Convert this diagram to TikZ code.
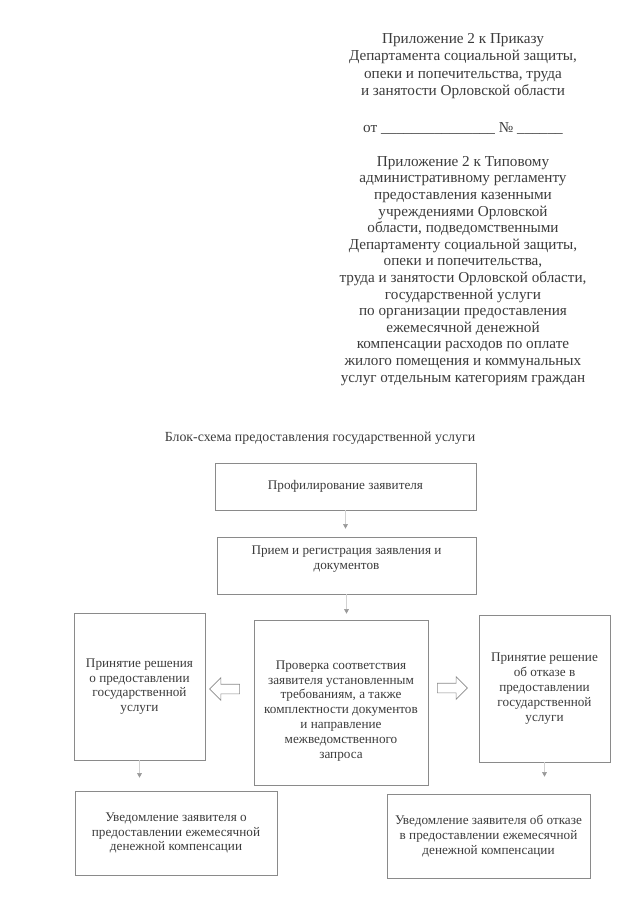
\documentclass[tikz,border=0pt]{standalone}
\usepackage{fontspec}
\setmainfont{Liberation Serif}
\usetikzlibrary{shapes.arrows,arrows.meta}
\definecolor{txt}{HTML}{3C3C3C}
\definecolor{edge}{HTML}{8A8A8A}
\begin{document}
\begin{tikzpicture}[x=1pt,y=-1pt,
 hdr/.style={align=center,font=\fontsize{15.2}{17.5}\selectfont,text=txt,inner sep=0pt},
 box/.style={draw=edge,line width=0.6pt,align=center,font=\fontsize{13.2}{14.8}\selectfont,text=txt,inner sep=0pt},
 flow/.style={draw=gray!35,line width=0.4pt,-{Triangle[width=4.5pt,length=4.5pt,fill=gray!80,color=gray!80]}},
 hollow/.style={single arrow,draw=edge,line width=0.6pt,fill=white,minimum height=30pt,inner sep=4.5pt,single arrow head extend=6.5pt}
]
\useasboundingbox[fill=white] (0,0) rectangle (639,905);

\node[hdr,anchor=north] (h1) at (463,33) {Приложение 2 к Приказу\\Департамента социальной защиты,\\опеки и попечительства, труда\\и занятости Орловской области};
\node[hdr,anchor=base] (h2) at (463,132) {от \_\_\_\_\_\_\_\_\_\_\_\_\_\_\_ № \_\_\_\_\_\_};
\node[hdr,anchor=north,font=\fontsize{15.2}{16.6}\selectfont] (h3) at (463,156) {Приложение 2 к Типовому\\административному регламенту\\предоставления казенными\\учреждениями Орловской\\области, подведомственными\\Департаменту социальной защиты,\\опеки и попечительства,\\труда и занятости Орловской области,\\государственной услуги\\по организации предоставления\\ежемесячной денежной\\компенсации расходов по оплате\\жилого помещения и коммунальных\\услуг отдельным категориям граждан};

\node[hdr,anchor=base,font=\fontsize{13.9}{16}\selectfont] (title) at (320,441) {Блок-схема предоставления государственной услуги};

\node[box,minimum width=261pt,minimum height=47pt] (b1) at (345.5,486.5) {Профилирование заявителя};
\node[box,minimum width=259pt,minimum height=57pt] (b2) at (346.5,565.5) {Прием и регистрация заявления и\\документов\rule[-15pt]{0pt}{0pt}};
\node[box,minimum width=131pt,minimum height=147pt] (L) at (139.5,686.5) {Принятие решения\\о предоставлении\\государственной\\услуги};
\node[box,minimum width=174pt,minimum height=165pt] (C) at (341,702.5) {\rule{0pt}{25pt}Проверка соответствия\\заявителя установленным\\требованиям, а также\\комплектности документов\\и направление\\межведомственного\\запроса};
\node[box,minimum width=131pt,minimum height=147pt] (R) at (544.5,688.5) {Принятие решение\\об отказе в\\предоставлении\\государственной\\услуги};
\node[box,minimum width=202pt,minimum height=84pt] (BL) at (176,833) {Уведомление заявителя о\\предоставлении ежемесячной\\денежной компенсации};
\node[box,minimum width=203pt,minimum height=84pt] (BR) at (488.5,836) {Уведомление заявителя об отказе\\в предоставлении ежемесячной\\денежной компенсации};

\draw[flow,shorten >=8pt] (b1.south) -- (b1.south |- b2.north);
\draw[flow,shorten >=6pt] (b2.south) -- (b2.south |- C.north);
\draw[flow,shorten >=13pt] (L.south) -- (L.south |- BL.north);
\draw[flow,shorten >=17pt] (R.south) -- (R.south |- BR.north);

\node[hollow,shape border rotate=180] (ha1) at (227,689) {};
\node[hollow] (ha2) at (450,688) {};
\end{tikzpicture}
\end{document}
